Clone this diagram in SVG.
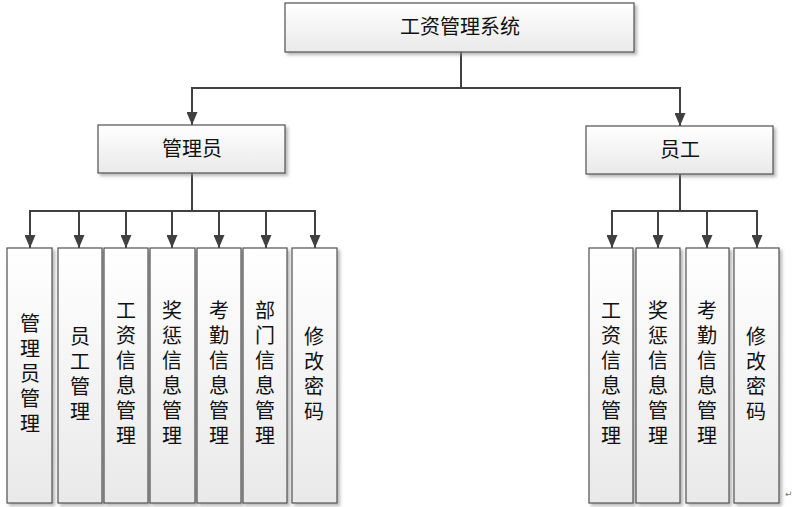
<svg xmlns="http://www.w3.org/2000/svg" width="792" height="507" viewBox="0 0 792 507">
<style>
.box{fill:url(#g);stroke:#505050;stroke-width:1.2;filter:url(#sh)}
.t{font-family:"Liberation Serif","Noto Sans CJK SC",serif;font-size:20px;fill:#111;text-anchor:middle}
.c{fill:none;stroke:#404040;stroke-width:2}
.a{fill:none;stroke:#404040;stroke-width:2;marker-end:url(#arr)}
</style>
<defs>
<linearGradient id="g" x1="0" y1="0" x2="0" y2="1">
<stop offset="0" stop-color="#ffffff"/>
<stop offset="1" stop-color="#e9e9e9"/>
</linearGradient>
<filter id="sh" x="-20%" y="-20%" width="140%" height="140%">
<feDropShadow dx="2.5" dy="2.5" stdDeviation="1.5" flood-color="#8a8a8a" flood-opacity="0.6"/>
</filter>
<marker id="arr" markerUnits="userSpaceOnUse" viewBox="0 0 13 11" refX="13" refY="5.5" markerWidth="13" markerHeight="11" orient="auto">
<path d="M0,0 L13,5.5 L0,11 z" fill="#404040"/>
</marker>
</defs>
<g id="connectors">
<path class="c" d="M461,52 V88 M192,88 H681"/>
<path class="a" d="M192,87 V125"/>
<path class="a" d="M680,87 V126"/>
<path class="c" d="M192,173 V211 M29,211 H316"/>
<path class="a" d="M30,210 V248"/>
<path class="a" d="M79,210 V248"/>
<path class="a" d="M126,210 V248"/>
<path class="a" d="M172,210 V248"/>
<path class="a" d="M219,210 V248"/>
<path class="a" d="M266,210 V248"/>
<path class="a" d="M315,210 V248"/>
<path class="c" d="M680,174 V211 M611,211 H758"/>
<path class="a" d="M612,210 V248"/>
<path class="a" d="M658,210 V248"/>
<path class="a" d="M707,210 V248"/>
<path class="a" d="M757,210 V248"/>
</g>
<g id="root"><rect class="box" x="285" y="3" width="349" height="49"/><text class="t" x="460" y="34">工资管理系统</text></g>
<g id="admin"><rect class="box" x="98" y="125" width="187" height="48"/><text class="t" x="192" y="156">管理员</text></g>
<g id="staff"><rect class="box" x="586" y="126" width="187" height="48"/><text class="t" x="680" y="157">员工</text></g>

<g id="a1"><rect class="box" x="7" y="248" width="45" height="255"/><text class="t" x="30" y="331">管<tspan x="30" dy="25">理</tspan><tspan x="30" dy="25">员</tspan><tspan x="30" dy="25">管</tspan><tspan x="30" dy="25">理</tspan></text></g>
<g id="a2"><rect class="box" x="58" y="248" width="44" height="255"/><text class="t" x="80" y="344">员<tspan x="80" dy="25">工</tspan><tspan x="80" dy="25">管</tspan><tspan x="80" dy="25">理</tspan></text></g>
<g id="a3"><rect class="box" x="104" y="248" width="44" height="255"/><text class="t" x="126" y="318">工<tspan x="126" dy="25">资</tspan><tspan x="126" dy="25">信</tspan><tspan x="126" dy="25">息</tspan><tspan x="126" dy="25">管</tspan><tspan x="126" dy="25">理</tspan></text></g>
<g id="a4"><rect class="box" x="150" y="248" width="45" height="255"/><text class="t" x="172" y="318">奖<tspan x="172" dy="25">惩</tspan><tspan x="172" dy="25">信</tspan><tspan x="172" dy="25">息</tspan><tspan x="172" dy="25">管</tspan><tspan x="172" dy="25">理</tspan></text></g>
<g id="a5"><rect class="box" x="197" y="248" width="44" height="255"/><text class="t" x="219" y="318">考<tspan x="219" dy="25">勤</tspan><tspan x="219" dy="25">信</tspan><tspan x="219" dy="25">息</tspan><tspan x="219" dy="25">管</tspan><tspan x="219" dy="25">理</tspan></text></g>
<g id="a6"><rect class="box" x="243" y="248" width="44" height="255"/><text class="t" x="265" y="318">部<tspan x="265" dy="25">门</tspan><tspan x="265" dy="25">信</tspan><tspan x="265" dy="25">息</tspan><tspan x="265" dy="25">管</tspan><tspan x="265" dy="25">理</tspan></text></g>
<g id="a7"><rect class="box" x="292" y="248" width="45" height="255"/><text class="t" x="314" y="344">修<tspan x="314" dy="25">改</tspan><tspan x="314" dy="25">密</tspan><tspan x="314" dy="25">码</tspan></text></g>

<g id="s1"><rect class="box" x="589" y="248" width="44" height="255"/><text class="t" x="611" y="318">工<tspan x="611" dy="25">资</tspan><tspan x="611" dy="25">信</tspan><tspan x="611" dy="25">息</tspan><tspan x="611" dy="25">管</tspan><tspan x="611" dy="25">理</tspan></text></g>
<g id="s2"><rect class="box" x="636" y="248" width="44" height="255"/><text class="t" x="658" y="318">奖<tspan x="658" dy="25">惩</tspan><tspan x="658" dy="25">信</tspan><tspan x="658" dy="25">息</tspan><tspan x="658" dy="25">管</tspan><tspan x="658" dy="25">理</tspan></text></g>
<g id="s3"><rect class="box" x="686" y="248" width="43" height="255"/><text class="t" x="707" y="318">考<tspan x="707" dy="25">勤</tspan><tspan x="707" dy="25">信</tspan><tspan x="707" dy="25">息</tspan><tspan x="707" dy="25">管</tspan><tspan x="707" dy="25">理</tspan></text></g>
<g id="s4"><rect class="box" x="734" y="248" width="45" height="255"/><text class="t" x="756" y="344">修<tspan x="756" dy="25">改</tspan><tspan x="756" dy="25">密</tspan><tspan x="756" dy="25">码</tspan></text></g>
<text x="785" y="497" style="font-family:'Liberation Sans','DejaVu Sans',sans-serif;font-size:9px;fill:#777">↵</text>
</svg>
